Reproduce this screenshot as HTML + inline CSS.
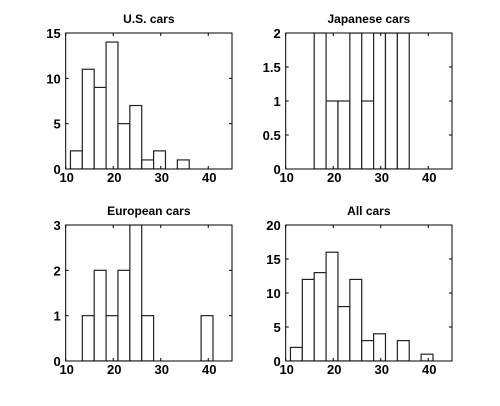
<!DOCTYPE html>
<html><head><meta charset="utf-8"><style>
html,body{margin:0;padding:0;background:#fff;}
svg{display:block;font-family:"Liberation Sans",Arial,sans-serif;}
</style></head><body>
<svg id="fig" width="500" height="406" viewBox="0 0 500 406"></svg>
<script>
// Bin edges (left edges, width 2.5)
const binStarts = [11,13.5,16,18.5,21,23.5,26,28.5,31,33.5,36,38.5];
const usCounts = [2,11,9,14,5,7,1,2,0,1,0,0];
const jpStarts = [16,18.5,21,23.5,26,28.5,31,33.5];
const jpCounts = [3,1,1,3,1,3,3,3];
const euCounts = [0,1,2,1,2,3,1,0,0,0,0,1];
const allCounts = [2,12,13,16,8,12,3,4,0,3,0,1];
const xTicks = [10,20,30,40];
const usYTicks = ["0","5","10","15"];
const jpYTicks = ["0","0.5","1","1.5","2"];
const euYTicks = ["0","1","2","3"];
const allYTicks = ["0","5","10","15","20"];
const binWidth = 2.5;

const NS="http://www.w3.org/2000/svg";
const svg=document.getElementById('fig');
function mk(tag,attrs,parent){const e=document.createElementNS(NS,tag);for(const k in attrs)e.setAttribute(k,attrs[k]);(parent||svg).appendChild(e);return e;}

function panel(name,title,L,T,R,B,starts,counts,yTicks,yMax){
  const g=mk('g',{});
  
  
  const xs=v=>L+(v-10)/(45-10)*(R-L);
  const ys=v=>B-Math.min(v,yMax)/yMax*(B-T);
  const cp='clip-'+name;
  const cl=mk('clipPath',{id:cp},g);mk('rect',{x:L,y:T,width:R-L,height:B-T},cl);
  const bars=mk('g',{'clip-path':'url(#'+cp+')'},g);
  for(let i=0;i<counts.length;i++){
    if(counts[i]<=0)continue;
    const x0=xs(starts[i]),x1=xs(starts[i]+binWidth),y=ys(counts[i]);
    const r=mk('rect',{x:x0,y:y,width:x1-x0,height:B-y,fill:'#fff',stroke:'#222','stroke-width':1.2},bars);
    
    
  }
  const fr=mk('rect',{x:L,y:T,width:R-L,height:B-T,fill:'none',stroke:'#000','stroke-width':1},g);
  
  
  xTicks.forEach(t=>{
    const x=xs(t);
    mk('line',{x1:x,x2:x,y1:B,y2:B-3,stroke:'#000'},g);
    mk('line',{x1:x,x2:x,y1:T,y2:T+3,stroke:'#000'},g);
    const tx=mk('text',{x:x+1,y:B+13,'font-size':13,'font-weight':'bold','text-anchor':'middle'},g);
    tx.textContent=t;
    
    
  });
  yTicks.forEach(t=>{
    const y=ys(parseFloat(t));
    mk('line',{x1:L,x2:L+3,y1:y,y2:y,stroke:'#000'},g);
    mk('line',{x1:R,x2:R-3,y1:y,y2:y,stroke:'#000'},g);
    const tx=mk('text',{x:L-5,y:y+5,'font-size':13,'font-weight':'bold','text-anchor':'end'},g);
    tx.textContent=t;
    
    
  });
  const ti=mk('text',{x:(L+R)/2,y:T-10,'font-size':12,'font-weight':'bold','text-anchor':'middle'},g);
  ti.textContent=title;
  
  
}
panel('us-cars-histogram','U.S. cars',65.7,33,232,169,binStarts,usCounts,usYTicks,15);
panel('japanese-cars-histogram','Japanese cars',285.7,33,452,169,jpStarts,jpCounts,jpYTicks,2);
panel('european-cars-histogram','European cars',65.7,225,232,361,binStarts,euCounts,euYTicks,3);
panel('all-cars-histogram','All cars',285.7,225,452,361,binStarts,allCounts,allYTicks,20);
</script>
</body></html>
